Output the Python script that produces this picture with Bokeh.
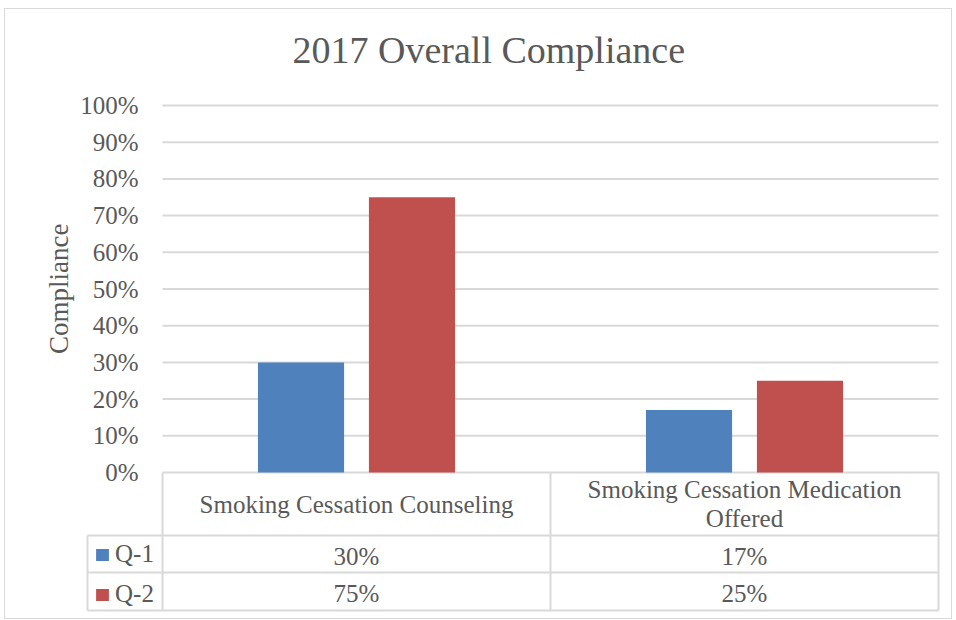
import textwrap
from bokeh.plotting import figure
from bokeh.models import (Range1d, FixedTicker, NumeralTickFormatter, Legend,
                          LegendItem, ColumnDataSource, Title, LinearAxis)
from bokeh.core.properties import value
from bokeh.embed import file_html
from bokeh.resources import INLINE

# ---------------- data ----------------
categories = ["Smoking Cessation Counseling", "Smoking Cessation Medication Offered"]
series_names = ["Q-1", "Q-2"]
q1_values = [0.30, 0.17]
q2_values = [0.75, 0.25]
y_ticks = [0.0, 0.1, 0.2, 0.3, 0.4, 0.5, 0.6, 0.7, 0.8, 0.9, 1.0]
title_text = "2017 Overall Compliance"
y_label = "Compliance"

# ---------------- style ----------------
FONT = "Liberation Serif"
TEXT = "#595959"
LINE = "#d9d9d9"
COLORS = ["#4f81bd", "#c0504d"]

# layout (pixels per data unit, used to place the data table under the axis)
PX_X = 388.0
PX_Y = 367.0
BAR_OFFSET = 0.143
BAR_WIDTH = 0.222
LEGEND_LEFT = -75 / PX_X
HEADER_BOTTOM = -63 / PX_Y
ROW1_BOTTOM = -100 / PX_Y
ROW2_BOTTOM = -138 / PX_Y

n = len(categories)
centers = [i + 0.5 for i in range(n)]

p = figure(width=948, height=611, output_backend="svg", toolbar_location=None,
           x_range=Range1d(-77 / PX_X, 779 / PX_X),
           y_range=Range1d(-140 / PX_Y, 372 / PX_Y),
           x_axis_location=None, title_location=None,
           min_border_left=80, min_border_right=12, min_border_top=91,
           min_border_bottom=8)
p.margin = (8, 0, 0, 4)
p.styles = {"border": "1px solid #d9d9d9"}
p.outline_line_color = None
p.xgrid.visible = False
p.ygrid.visible = False
p.background_fill_color = "white"
p.border_fill_color = "white"

# spacing between title and plot area (invisible axis)
spacer = LinearAxis(ticker=FixedTicker(ticks=[1.0]), major_label_overrides={1.0: ""},
                    major_label_text_font_size="0px",
                    major_tick_out=15, major_tick_in=0,
                    minor_tick_out=0, minor_tick_in=0, axis_line_color=None,
                    major_tick_line_color=None, minor_tick_line_color=None)
p.add_layout(spacer, "above")

# title
main_title = Title(text=title_text, align="left", offset=207, standoff=30,
                   text_font=FONT, text_font_size="38px", text_font_style="normal",
                   text_color=TEXT)
p.add_layout(main_title, "above")

# y axis
ax = p.yaxis[0]
ax.ticker = FixedTicker(ticks=y_ticks)
ax.formatter = NumeralTickFormatter(format="0%")
ax.axis_line_color = None
ax.major_tick_line_color = None
ax.minor_tick_line_color = None
ax.major_tick_out = 0
ax.major_tick_in = 0
ax.major_label_text_font = FONT
ax.major_label_text_font_size = "25px"
ax.major_label_text_color = TEXT
ax.major_label_standoff = -53

# y axis title (centred on the 0-100% part of the axis)
ytitle = Title(text=y_label, align="right", offset=123, standoff=8,
               text_font=FONT, text_font_size="27px", text_font_style="normal",
               text_color=TEXT)
p.add_layout(ytitle, "left")

# gridlines
p.segment(x0=0, x1=n, y0=y_ticks, y1=y_ticks, line_color=LINE, line_width=2)

# bars
src = ColumnDataSource(dict(
    x1=[c - BAR_OFFSET for c in centers], x2=[c + BAR_OFFSET for c in centers],
    q1=q1_values, q2=q2_values))
r1 = p.vbar(x="x1", top="q1", width=BAR_WIDTH, source=src, fill_color=COLORS[0], line_color=None)
r2 = p.vbar(x="x2", top="q2", width=BAR_WIDTH, source=src, fill_color=COLORS[1], line_color=None)

# data table lines
p.segment(x0=LEGEND_LEFT, x1=n, y0=[HEADER_BOTTOM, ROW1_BOTTOM, ROW2_BOTTOM],
          y1=[HEADER_BOTTOM, ROW1_BOTTOM, ROW2_BOTTOM], line_color=LINE, line_width=2)
p.segment(x0=list(range(n + 1)), x1=list(range(n + 1)), y0=0, y1=ROW2_BOTTOM,
          line_color=LINE, line_width=2)
p.segment(x0=[LEGEND_LEFT], x1=[LEGEND_LEFT], y0=HEADER_BOTTOM, y1=ROW2_BOTTOM,
          line_color=LINE, line_width=2)

# header labels
header = [textwrap.fill(c, width=28) for c in categories]
p.text(x=centers, y=[HEADER_BOTTOM / 2] * n, text=header,
       text_font=value(FONT), text_font_size=value("25px"), text_color=TEXT,
       text_align="center", text_baseline="middle", text_line_height=1.1)

# values
row_y = [(HEADER_BOTTOM + ROW1_BOTTOM) / 2, (ROW1_BOTTOM + ROW2_BOTTOM) / 2]
for vals, ry in zip([q1_values, q2_values], row_y):
    p.text(x=centers, y=[ry] * n, text=[f"{round(v * 100)}%" for v in vals],
           text_font=value(FONT), text_font_size=value("25px"), text_color=TEXT,
           text_align="center", text_baseline="middle", y_offset=2)

# legend keys in data table
legend = Legend(items=[LegendItem(label=series_names[0], renderers=[r1]),
                       LegendItem(label=series_names[1], renderers=[r2])],
                location=(9, 4), orientation="vertical", padding=0, margin=0,
                spacing=12, glyph_width=16, glyph_height=15, label_height=15,
                label_standoff=5, label_text_font=FONT, label_text_font_size="25px",
                label_text_color=TEXT, border_line_color=None, background_fill_alpha=0)
p.add_layout(legend)

open("out.html", "w").write(file_html(p, INLINE))
